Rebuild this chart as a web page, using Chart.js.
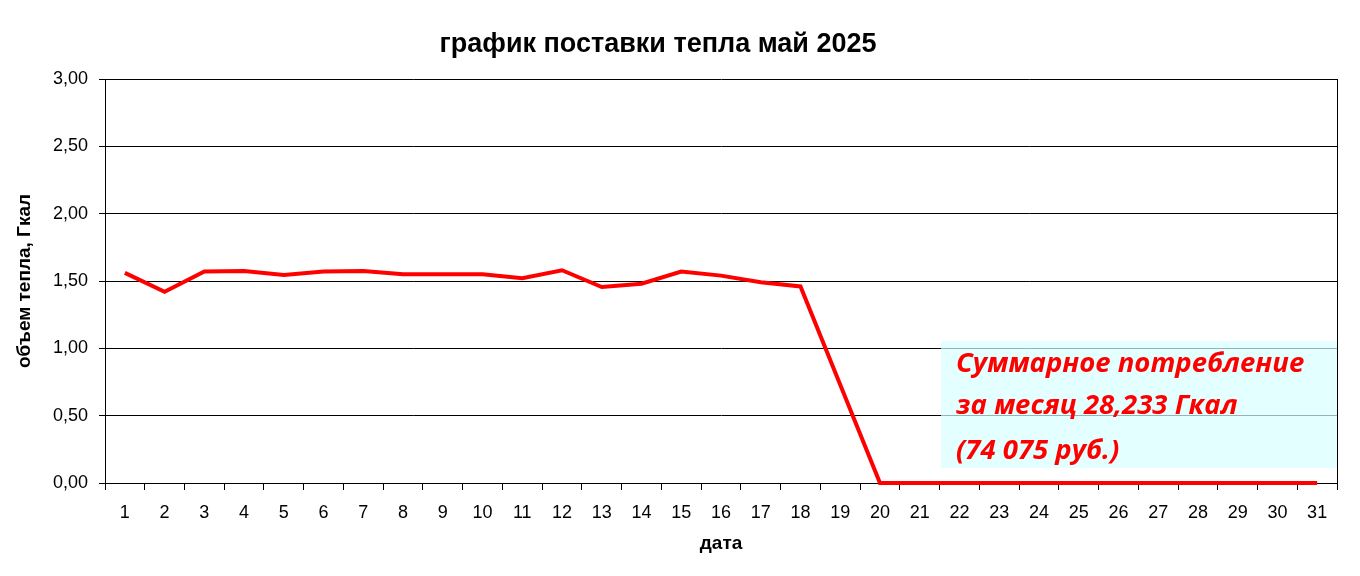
<!DOCTYPE html>
<html lang="ru">
<head>
  <meta charset="UTF-8">
  <title>график поставки тепла май 2025</title>
  <script src="https://cdn.jsdelivr.net/npm/chart.js"></script>
  <style>
    html, body { margin: 0; padding: 0; background: #ffffff; }
    #box { width: 1360px; height: 576px; position: relative; }
  </style>
</head>
<body>
  <div id="box">
    <canvas id="myChart" width="1360" height="576"></canvas>
  </div>

<script>
// дни месяца
const dias = ['1','2','3','4','5','6','7','8','9','10','11','12','13','14','15','16',
  '17','18','19','20','21','22','23','24','25','26','27','28','29','30','31'];

// объем тепла, Гкал
const volume = [1.56, 1.42, 1.57, 1.575, 1.545, 1.57, 1.575, 1.55, 1.55, 1.55, 1.52, 1.58,
  1.455, 1.48, 1.57, 1.54, 1.49, 1.46, 0.73, 0, 0, 0, 0, 0, 0, 0, 0, 0, 0, 0, 0];

const yTicks = [0, 0.5, 1, 1.5, 2, 2.5, 3];

const titulo = 'график поставки тепла май 2025';
const nota = ['Суммарное потребление', 'за месяц 28,233 Гкал', '(74 075 руб.)'];

// заголовок, рамка справа и подпись в голубом прямоугольнике
const extras = {
  id: 'extras',
  beforeDatasetsDraw(chart) {
    const { ctx, chartArea } = chart;
    ctx.save();
    ctx.fillStyle = 'rgba(215, 255, 255, 0.7)';
    ctx.fillRect(941, 341, chartArea.right - 941, 127);
    ctx.restore();
  },
  afterDraw(chart) {
    const { ctx, chartArea } = chart;
    ctx.save();
    ctx.fillStyle = '#000';
    ctx.font = 'bold 27px "Liberation Sans", Arial, sans-serif';
    ctx.textAlign = 'center';
    ctx.textBaseline = 'middle';
    ctx.fillText(titulo, 658, 45);

    ctx.strokeStyle = '#000';
    ctx.lineWidth = 1;
    ctx.beginPath();
    ctx.moveTo(Math.round(chartArea.right) + 0.5, chartArea.top);
    ctx.lineTo(Math.round(chartArea.right) + 0.5, chartArea.bottom + 7);
    ctx.stroke();

    ctx.fillStyle = '#ff0000';
    ctx.font = 'italic bold 27.5px "Open Sans", "Noto Sans", sans-serif';
    ctx.textAlign = 'left';
    ctx.textBaseline = 'alphabetic';
    ctx.fillText(nota[0], 956, 372);
    ctx.fillText(nota[1], 956, 414);
    ctx.fillText(nota[2], 956, 459);
    ctx.restore();
  }
};

const ctx = document.getElementById('myChart');
new Chart(ctx, {
  type: 'line',
  data: {
    labels: dias,
    datasets: [{
      label: 'объем тепла',
      data: volume,
      borderColor: '#ff0000',
      borderWidth: 4,
      pointRadius: 0,
      tension: 0,
      clip: 6
    }]
  },
  options: {
    responsive: false,
    animation: false,
    layout: { padding: { top: 79, right: 23, left: 0, bottom: 0 } },
    scales: {
      x: {
        offset: true,
        afterFit(scale) { scale.height = 93; },
        grid: {
          offset: true,
          drawOnChartArea: false,
          drawTicks: true,
          tickLength: 7,
          color: '#000'
        },
        border: { color: '#000', width: 1 },
        ticks: {
          color: '#000',
          padding: 12,
          maxRotation: 0,
          autoSkip: false,
          font: { family: '"Liberation Sans", Arial, sans-serif', size: 18 }
        },
        title: {
          display: true,
          text: 'дата',
          color: '#000',
          padding: { top: 0, bottom: 21 },
          font: { family: '"Liberation Sans", Arial, sans-serif', size: 19, weight: 'bold' }
        }
      },
      y: {
        min: 0,
        max: 3,
        afterFit(scale) { scale.width = 105; },
        afterBuildTicks(scale) { scale.ticks = yTicks.map(v => ({ value: v })); },
        grid: {
          color: '#000',
          lineWidth: 1,
          tickLength: 6
        },
        border: { color: '#000', width: 1 },
        ticks: {
          color: '#000',
          padding: 11,
          font: { family: '"Liberation Sans", Arial, sans-serif', size: 18 },
          callback: function (v) { return v.toFixed(2).replace('.', ','); }
        },
        title: {
          display: true,
          text: 'объем тепла, Гкал',
          color: '#000',
          padding: { top: 13, bottom: 0 },
          font: { family: '"Liberation Sans", Arial, sans-serif', size: 19, weight: 'bold' }
        }
      }
    },
    plugins: {
      legend: { display: false },
      tooltip: { enabled: false }
    }
  },
  plugins: [extras]
});
</script>
</body>
</html>
